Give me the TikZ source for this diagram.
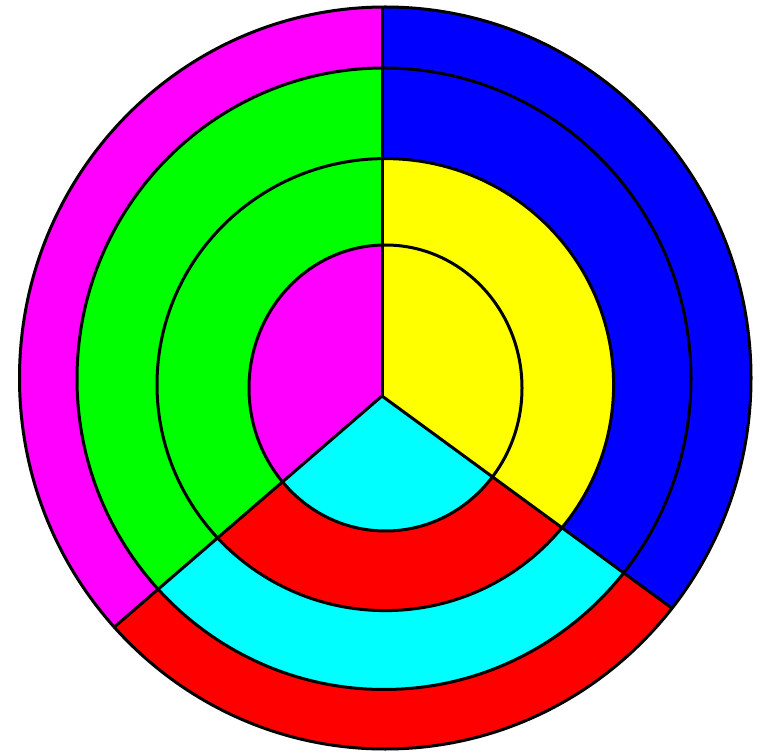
\documentclass[tikz,border=0pt]{standalone}
\usepackage{tikz}
\usetikzlibrary{calc}

\definecolor{ringmagenta}{RGB}{255,0,255}
\definecolor{ringgreen}{RGB}{0,255,0}
\definecolor{ringblue}{RGB}{0,0,255}
\definecolor{ringyellow}{RGB}{255,255,0}
\definecolor{ringcyan}{RGB}{0,255,255}
\definecolor{ringred}{RGB}{255,0,0}

\tikzset{ring line/.style={draw=black, line width=3pt}}

\begin{document}
\begin{tikzpicture}[x=1pt, y=1pt]
  \useasboundingbox (0,0) rectangle (760,753);
  % meeting point of the spokes, centres of the rings
  \coordinate (v)  at (382,357);
  \coordinate (c1) at (385.5,365);
  \coordinate (c2) at (385.3,368.4);
  \coordinate (c3) at (384,374.25);
  \coordinate (c4) at (385.25,375);
  % left sector
  \begin{scope}
    \clip (v) -- ($(v)+(90:900)$) -- ($(v)+(155:900)$) -- ($(v)+(220.8:900)$) -- cycle;
    \fill[ringmagenta] (c4) ellipse[x radius=365.75pt, y radius=371pt];
    \fill[ringgreen]   (c3) ellipse[x radius=307pt, y radius=310.75pt];
    \fill[ringmagenta] (c1) ellipse[x radius=136.5pt, y radius=143pt];
  \end{scope}
  % bottom sector
  \begin{scope}
    \clip (v) -- ($(v)+(220.8:900)$) -- ($(v)+(272:900)$) -- ($(v)+(323.8:900)$) -- cycle;
    \fill[ringred]  (c4) ellipse[x radius=365.75pt, y radius=371pt];
    \fill[ringcyan] (c3) ellipse[x radius=307pt, y radius=310.75pt];
    \fill[ringred]  (c2) ellipse[x radius=228.3pt, y radius=226pt];
    \fill[ringcyan] (c1) ellipse[x radius=136.5pt, y radius=143pt];
  \end{scope}
  % right sector
  \begin{scope}
    \clip (v) -- ($(v)+(323.8:900)$) -- ($(v)+(27:900)$) -- ($(v)+(90:900)$) -- cycle;
    \fill[ringblue]   (c4) ellipse[x radius=365.75pt, y radius=371pt];
    \fill[ringyellow] (c2) ellipse[x radius=228.3pt, y radius=226pt];
  \end{scope}
  % spokes
  \begin{scope}
    \clip (c4) ellipse[x radius=365.75pt, y radius=371pt];
    \draw[ring line] (v) -- ++(90:900);
    \draw[ring line] (v) -- ++(220.8:900);
    \draw[ring line] (v) -- ++(323.8:900);
  \end{scope}
  % rings
  \draw[ring line] (c1) ellipse[x radius=136.5pt, y radius=143pt];
  \draw[ring line] (c2) ellipse[x radius=228.3pt, y radius=226pt];
  \draw[ring line] (c3) ellipse[x radius=307pt, y radius=310.75pt];
  \draw[ring line] (c4) ellipse[x radius=365.75pt, y radius=371pt];
\end{tikzpicture}
\end{document}
